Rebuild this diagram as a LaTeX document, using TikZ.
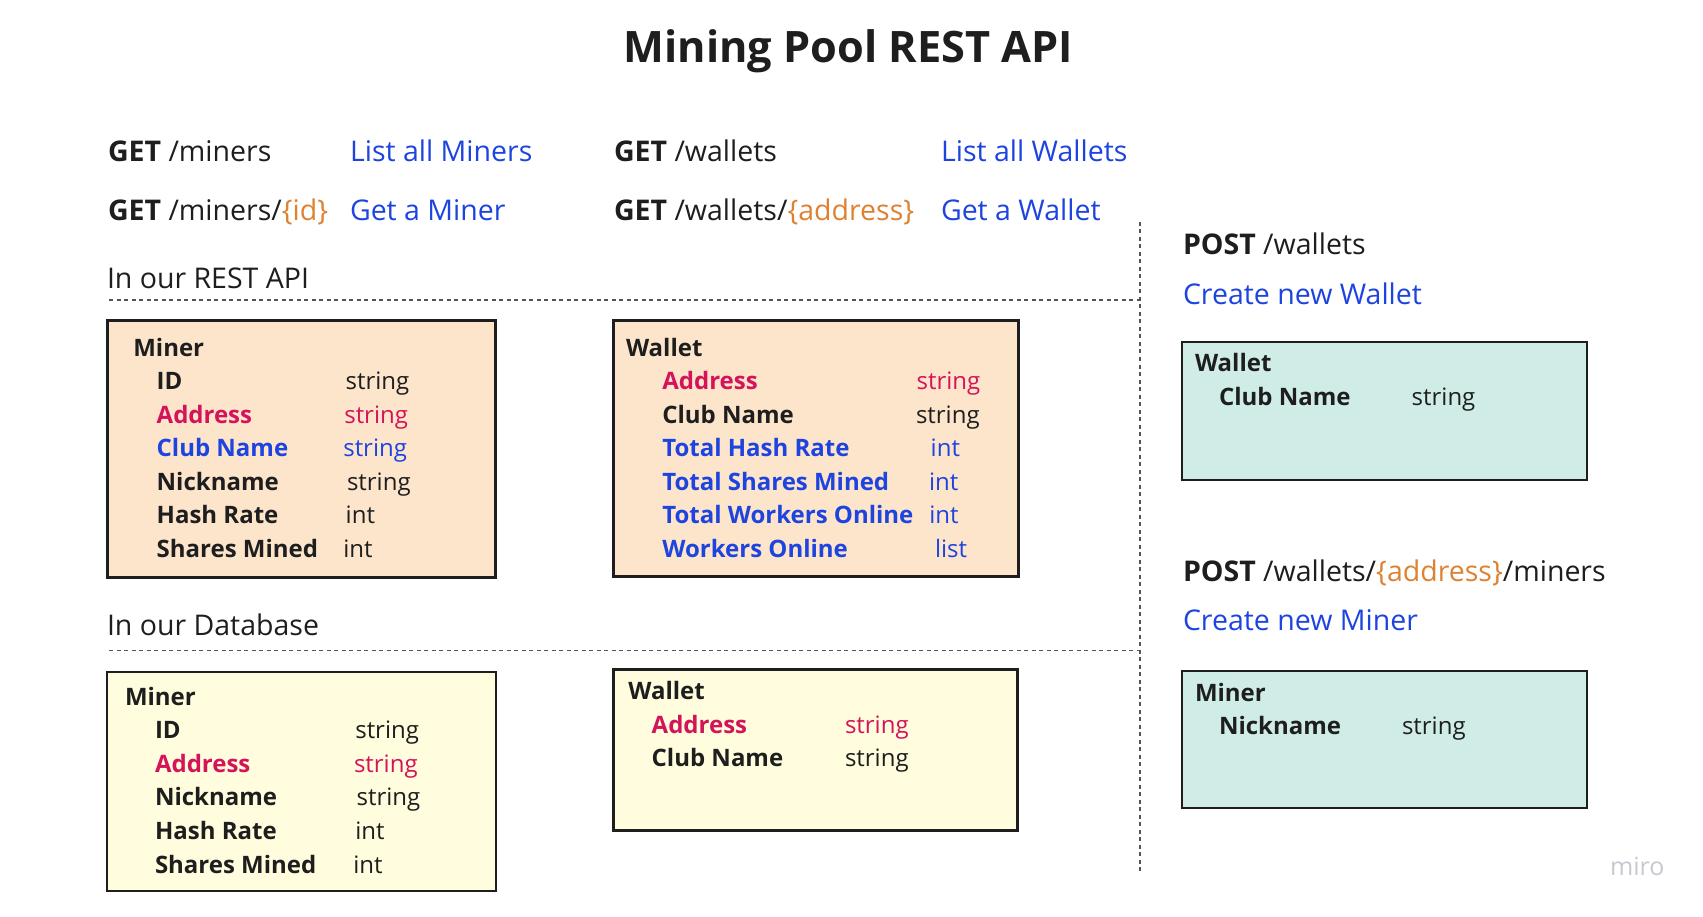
\documentclass[tikz,border=0pt]{standalone}
\usepackage{fontspec}
\setmainfont{Open Sans}
\definecolor{ink}{HTML}{1E1E1E}
\definecolor{linkblue}{HTML}{1E44E0}
\definecolor{keyred}{HTML}{D4145A}
\definecolor{paramorange}{HTML}{DE8232}
\definecolor{peach}{HTML}{FDE5CC}
\definecolor{cream}{HTML}{FFFDDD}
\definecolor{mint}{HTML}{CFEDE6}
\definecolor{rule}{HTML}{555555}
\definecolor{brand}{HTML}{C8C8D2}
\newcommand{\titlefont}{\fontsize{43.3}{52}\selectfont\bfseries}
\newcommand{\mainfont}{\fontsize{28.5}{33}\selectfont}
\newcommand{\fieldfont}{\fontsize{24}{29}\selectfont}
\begin{document}
\begin{tikzpicture}[x=1pt,y=-1pt,
  every node/.style={inner sep=0pt,outer sep=0pt,text=ink},
  txt/.style={anchor=base west,font=\mainfont},
  fld/.style={anchor=base west,font=\fieldfont\bfseries},
  typ/.style={anchor=base west,font=\fieldfont},
  link/.style={txt,text=linkblue},
  entity/.style={draw=ink,line width=2.5pt,anchor=north west},
  restbox/.style={entity,fill=peach},
  dbbox/.style={entity,fill=cream},
  postbox/.style={entity,fill=mint},
  divider/.style={draw=rule,line width=1.3pt,dash pattern=on 4pt off 3.5pt}]
\useasboundingbox (0,0) rectangle (1703,917);
\fill[white] (0,0) rectangle (1703,917);

% title
\node[anchor=base,font=\titlefont] (title) at (848.5,62.7) {Mining Pool REST API};

% GET endpoints
\node[txt] (get1) at (108,162) {\textbf{GET} /miners};
\node[link] (get1d) at (350,162) {List all Miners};
\node[txt] (get2) at (108,221) {\textbf{GET} /miners/\textcolor{paramorange}{\{id\}}};
\node[link] (get2d) at (350,221) {Get a Miner};
\node[txt] (get3) at (614,162) {\textbf{GET} /wallets};
\node[link] (get3d) at (941,162) {List all Wallets};
\node[txt] (get4) at (614,221) {\textbf{GET} /wallets/\textcolor{paramorange}{\{address\}}};
\node[link] (get4d) at (941,221) {Get a Wallet};

% section dividers
\node[txt] (restlbl) at (107,288.5) {In our REST API};
\coordinate (restL) at (109,300);
\coordinate (restR) at (1140,300);
\draw[divider] (restL) -- (restR);
\node[txt] (dblbl) at (107,635) {In our Database};
\coordinate (dbL) at (109,650.5);
\coordinate (dbR) at (1140,650.5);
\draw[divider] (dbL) -- (dbR);
\coordinate (vtop) at (1140,222);
\coordinate (vbot) at (1140,874);
\draw[divider] (vtop) -- (vbot);

% REST Miner
\node[restbox,minimum width=388pt,minimum height=257pt] (restminer) at (107.5,320.5) {};
\node[fld] (rm0) at (133.3,356) {Miner};
\node[fld] (rm1) at (156.7,389.5) {ID};
\node[typ] (rm1t) at (345.7,389.5) {string};
\node[fld,text=keyred] (rm2) at (156.7,423) {Address};
\node[typ,text=keyred] (rm2t) at (344.3,423) {string};
\node[fld,text=linkblue] (rm3) at (156.7,456.6) {Club Name};
\node[typ,text=linkblue] (rm3t) at (343.3,456.6) {string};
\node[fld] (rm4) at (156.7,490.2) {Nickname};
\node[typ] (rm4t) at (347,490.2) {string};
\node[fld] (rm5) at (156.7,523.8) {Hash Rate};
\node[typ] (rm5t) at (345.7,523.8) {int};
\node[fld] (rm6) at (156.7,557.4) {Shares Mined};
\node[typ] (rm6t) at (343.3,557.4) {int};

% REST Wallet
\node[restbox,minimum width=405pt,minimum height=256pt] (restwallet) at (613.5,320.5) {};
\node[fld] (rw0) at (626,356) {Wallet};
\node[fld,text=keyred] (rw1) at (662.3,389.5) {Address};
\node[typ,text=keyred] (rw1t) at (916.7,389.5) {string};
\node[fld] (rw2) at (662.3,423) {Club Name};
\node[typ] (rw2t) at (916,423) {string};
\node[fld,text=linkblue] (rw3) at (662.3,456.6) {Total Hash Rate};
\node[typ,text=linkblue] (rw3t) at (930.7,456.6) {int};
\node[fld,text=linkblue] (rw4) at (662.3,490.2) {Total Shares Mined};
\node[typ,text=linkblue] (rw4t) at (929,490.2) {int};
\node[fld,text=linkblue] (rw5) at (662.3,523.8) {Total Workers Online};
\node[typ,text=linkblue] (rw5t) at (929.3,523.8) {int};
\node[fld,text=linkblue] (rw6) at (662.3,557.4) {Workers Online};
\node[typ,text=linkblue] (rw6t) at (935,557.4) {list};

% Database Miner
\node[dbbox,minimum width=389pt,minimum height=219pt] (dbminer) at (107,672) {};
\node[fld] (dm0) at (125,705) {Miner};
\node[fld] (dm1) at (155,738.6) {ID};
\node[typ] (dm1t) at (355.3,738.6) {string};
\node[fld,text=keyred] (dm2) at (155,772.2) {Address};
\node[typ,text=keyred] (dm2t) at (354,772.2) {string};
\node[fld] (dm3) at (155,805.8) {Nickname};
\node[typ] (dm3t) at (356.7,805.8) {string};
\node[fld] (dm4) at (155,839.4) {Hash Rate};
\node[typ] (dm4t) at (355.3,839.4) {int};
\node[fld] (dm5) at (155,873) {Shares Mined};
\node[typ] (dm5t) at (353.3,873) {int};

% Database Wallet
\node[dbbox,minimum width=404pt,minimum height=161pt] (dbwallet) at (613.5,669.5) {};
\node[fld] (dw0) at (628.3,699.3) {Wallet};
\node[fld,text=keyred] (dw1) at (651.7,733.3) {Address};
\node[typ,text=keyred] (dw1t) at (845,733.3) {string};
\node[fld] (dw2) at (651.7,766.7) {Club Name};
\node[typ] (dw2t) at (845,766.7) {string};

% POST /wallets
\node[txt] (post1) at (1183,255) {\textbf{POST} /wallets};
\node[link] (post1d) at (1183,304.5) {Create new Wallet};
\node[postbox,minimum width=405pt,minimum height=138pt] (newwallet) at (1182,342) {};
\node[fld] (nw0) at (1195,371.7) {Wallet};
\node[fld] (nw1) at (1219,405) {Club Name};
\node[typ] (nw1t) at (1411.7,405) {string};

% POST /wallets/{address}/miners
\node[txt] (post2) at (1183,581.7) {\textbf{POST} /wallets/\textcolor{paramorange}{\{address\}}/miners};
\node[link] (post2d) at (1183,630.7) {Create new Miner};
\node[postbox,minimum width=405pt,minimum height=137pt] (newminer) at (1182,671) {};
\node[fld] (nm0) at (1195,701) {Miner};
\node[fld] (nm1) at (1219,734.5) {Nickname};
\node[typ] (nm1t) at (1402,734.5) {string};

% brand mark
\node[anchor=base west,font=\fontsize{25}{28}\selectfont,text=brand] (brandmark) at (1610,875) {miro};
\end{tikzpicture}
\end{document}
